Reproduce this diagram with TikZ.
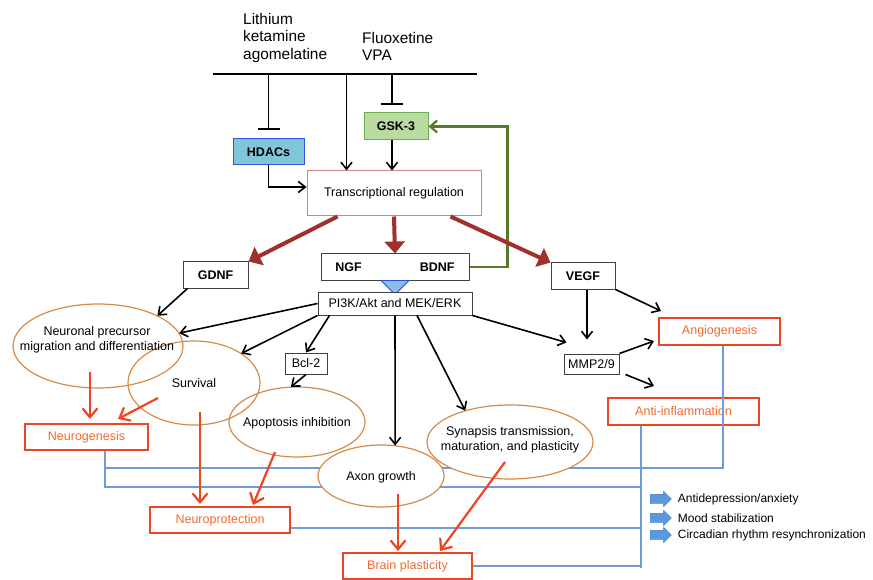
\documentclass[tikz,border=0pt]{standalone}
\usepackage{fontspec}
\setmainfont{Liberation Sans}
\usetikzlibrary{arrows.meta,shapes.geometric,shapes.arrows,positioning}

\definecolor{brick}{HTML}{A0302C}
\definecolor{gskline}{HTML}{557A2A}
\definecolor{gskfill}{HTML}{B9DAA0}
\definecolor{gskdraw}{HTML}{6DAF4C}
\definecolor{hdacfill}{HTML}{80C6D8}
\definecolor{hdacdraw}{HTML}{3355E0}
\definecolor{trdraw}{HTML}{C48888}
\definecolor{outred}{HTML}{F04420}
\definecolor{outtext}{HTML}{F26A2E}
\definecolor{bubdraw}{HTML}{D58B4C}
\definecolor{busblue}{HTML}{6E9CDA}
\definecolor{wedgefill}{HTML}{8DBBEA}
\definecolor{wedgedraw}{HTML}{2A4FE0}
\definecolor{legfill}{HTML}{5A98E0}

\newcommand{\fs}{\fontsize{12.5}{15}\selectfont}
\tikzstyle{plain}=[draw=black!75, fill=white, line width=1pt, inner sep=0pt]
\tikzstyle{factor}=[plain, minimum height=26pt, font=\fs\bfseries]
\tikzstyle{effect}=[draw=outred, fill=white, line width=2pt, inner sep=0pt, minimum height=26pt, text=outtext]
\tikzstyle{drug}=[anchor=west, align=left, inner sep=0pt, font=\fontsize{15.4}{17.5}\selectfont]
\tikzstyle{bubble}=[ellipse, fill=white, inner sep=0pt]
\tikzstyle{bubline}=[ellipse, draw=bubdraw, line width=1.2pt, inner sep=0pt]
\tikzstyle{bubtext}=[align=center, inner sep=0pt]
\tikzstyle{arr}=[line width=1.6pt, -{Straight Barb[length=7pt,width=11pt]}]
\tikzstyle{inhib}=[line width=1.6pt, -{Bar[width=22pt,line width=2pt]}]
\tikzstyle{redarr}=[outred, line width=2.2pt, -{Straight Barb[length=9pt,width=15pt]}]
\tikzstyle{brickarr}=[brick, line width=4pt, -{Triangle[length=12pt,width=20pt]}]
\tikzstyle{greenarr}=[gskline, line width=2.2pt, -{Straight Barb[length=7pt,width=12pt]}]
\tikzstyle{busline}=[busblue, line width=1.5pt]
\tikzstyle{legarrow}=[single arrow, fill=legfill, draw=legfill!80!black, line width=0.4pt, inner xsep=0pt, inner ysep=4.5pt, minimum height=21pt, single arrow head extend=3pt]
\newcommand{\factor}{\node[factor]}
\newcommand{\effect}{\node[effect]}

\begin{document}
\begin{tikzpicture}[x=1pt, y=-1pt, font=\fs]
\useasboundingbox (0,0) rectangle (873,580);
%drugs
\node[drug] (li) at (243,38) {Lithium\\ketamine\\agomelatine};
\node[drug] (fl) at (362,46.5) {Fluoxetine\\VPA};
\coordinate (bl) at (213,74);
\coordinate (br) at (477,74);
\draw[line width=2.2pt] (bl) -- (br);
%targets
\factor[fill=hdacfill, draw=hdacdraw, minimum width=71pt] (hdac) at (268.5,152) {HDACs};
\factor[fill=gskfill, draw=gskdraw, minimum width=64pt, minimum height=27pt] (gsk) at (396,126.5) {GSK-3};
\node[plain, draw=trdraw, minimum width=174pt, minimum height=45pt] (tr) at (394,193.5) {Transcriptional regulation};
%growth factors
\factor[minimum width=65pt] (gdnf) at (215.5,275) {GDNF};
\factor[minimum width=148pt] (ngf) at (395,267) {NGF\hspace{58pt}BDNF};
\factor[minimum width=64pt] (vegf) at (583,276) {VEGF};
\draw[wedgedraw, fill=wedgefill, line width=0.8pt] ([xshift=-14pt]ngf.south) -- ([xshift=14pt]ngf.south) -- ([yshift=-14pt]ngf.south) -- cycle;
\node[plain, minimum width=154pt, minimum height=23pt] (pi3k) at (395,303.5) {PI3K/Akt and MEK/ERK};
\node[plain, minimum width=42pt, minimum height=21pt] (bcl) at (306,363.5) {Bcl-2};
\node[plain, minimum width=55pt, minimum height=20pt] (mmp) at (591.5,364) {MMP2/9};
%outcomes
\effect[minimum width=121pt, minimum height=27pt] (angio) at (719.5,331.5) {Angiogenesis};
\effect[minimum width=151pt, minimum height=27pt] (antiinf) at (683.5,411.5) {Anti-inflammation};
\effect[minimum width=123pt] (neurogen) at (86.5,437) {Neurogenesis};
\effect[minimum width=140pt] (neuroprot) at (220,520) {Neuroprotection};
\effect[minimum width=129pt] (brain) at (407.5,566) {Brain plasticity};
%blue lines
\coordinate (hub) at (641,487);
\draw[busline] ([xshift=18.5pt]neurogen.south) |- (hub);
\draw[busline] ([xshift=18.5pt]neurogen.south) ++(0,17) -| ([xshift=3.5pt]angio.south);
\draw[busline] ([xshift=-42.5pt]antiinf.south) -- ++(0,142);
\draw[busline] ([yshift=-8pt]neuroprot.east) coordinate (np) -- (np -| hub);
\draw[busline] (brain.east) -- (brain.east -| hub);
%ellipses
\foreach \n/\x/\y/\w/\h in {npm/98/346/170/84, surv/194/383/132/84, apo/297/422/136/70, axon/381/476/126/62, syn/510/442/166/74}
	\node[bubble, minimum width=\w pt, minimum height=\h pt] (\n) at (\x,\y) {};
\foreach \n/\w/\h in {npm/170/84, surv/132/84, apo/136/70, axon/126/62, syn/166/74}
	\node[bubline, minimum width=\w pt, minimum height=\h pt] (\n-o) at (\n) {};
\node[bubtext] (npmtxt) at (97,340) {Neuronal precursor\\migration and differentiation};
\node[bubtext] (survtxt) at (194,383) {Survival};
\node[bubtext] (apotxt) at (297,423) {Apoptosis inhibition};
\node[bubtext] (axontxt) at (381,477) {Axon growth};
\node[bubtext] (syntxt) at (510,440) {Synapsis transmission,\\maturation, and plasticity};
%inhibitions and arrows
\coordinate (t1) at ([xshift=40pt]tr.north west);
\coordinate (g1) at ([shift={(-4,-7)}]gsk.north);
\coordinate (g2) at ([xshift=-4pt]gsk.south);
\draw[inhib] (hdac.north |- bl) -- ([yshift=8pt]hdac.north);
\draw[inhib] (g1 |- bl) -- (g1);
\draw[arr] (t1 |- bl) -- (t1);
\draw[arr] (g2) -- (g2 |- tr.north);
\draw[arr] (hdac.south) |- ([yshift=6.5pt]tr.west);
\draw[greenarr] (ngf.east) -- ++(38,0) |- (gsk.east);
\draw[brickarr] ([xshift=31pt]tr.south west) -- (gdnf.north east);
\draw[brickarr] (tr.south) -- (ngf.north);
\draw[brickarr] ([xshift=-31pt]tr.south east) -- (vegf.north west);
\draw[arr] ([xshift=5pt]gdnf.south west) -- (npm.27);
\draw[arr] (pi3k.west) -- (npm.9);
\draw[arr] (pi3k.south west) -- (surv.32);
\draw[arr] ([xshift=12pt]pi3k.south west) -- (bcl.north);
\draw[arr] (bcl.south) -- (apo.100);
\draw[arr] (pi3k.south) -- (axon.65);
\draw[arr] ([xshift=22pt]pi3k.south) -- (syn.145);
\draw[arr] (pi3k.south east) -- ([shift={(3,-11)}]mmp.north west);
\draw[arr] ([xshift=4pt]vegf.south) -- ([shift={(-4.5,-14)}]mmp.north);
\draw[arr] (vegf.south east) -- ([shift={(3,-6)}]angio.north west);
\draw[arr] (mmp.north east) -- ([shift={(-4,-5)}]angio.south west);
\draw[arr] ([xshift=6pt]mmp.south east) -- ([shift={(47,-11)}]antiinf.north west);
\draw[redarr] ([shift={(-8,26)}]npm.center) -- ([shift={(3.5,-4)}]neurogen.north);
\draw[redarr] ([shift={(-36,15)}]surv.center) -- ([shift={(-31,-4)}]neurogen.north east);
\draw[redarr] ([shift={(6,29)}]surv.center) -- ([shift={(-20,-2)}]neuroprot.north);
\draw[redarr] ([shift={(-22,30)}]apo.center) -- ([shift={(33,-1)}]neuroprot.north);
\draw[redarr] ([shift={(17,18)}]axon.center) -- ([shift={(-9.5,-1)}]brain.north);
\draw[redarr] ([shift={(-5,20)}]syn.center) -- ([shift={(32.5,-1)}]brain.north);
%effects
\foreach \i/\y in {1/499, 2/518, 3/535}
	\node[legarrow] (leg\i) at (658.5,\y) {};
\node[right=6pt of leg1, inner sep=0pt, font=\fontsize{12}{14}\selectfont] (eff1) {Antidepression/anxiety};
\node[right=6pt of leg2, inner sep=0pt, font=\fontsize{12}{14}\selectfont] (eff2) {Mood stabilization};
\node[right=6pt of leg3, inner sep=0pt, font=\fontsize{12}{14}\selectfont] (eff3) {Circadian rhythm resynchronization};
\end{tikzpicture}
\end{document}
